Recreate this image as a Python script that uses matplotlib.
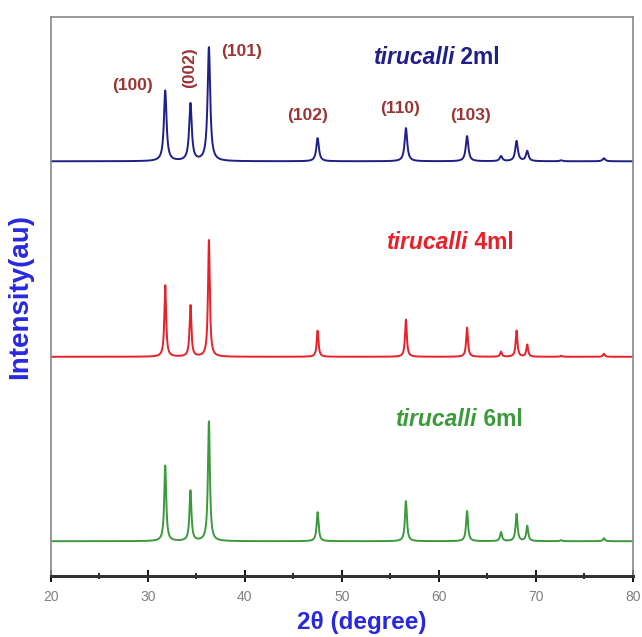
import numpy as np
import matplotlib.pyplot as plt

plt.rcParams['font.family'] = ['Liberation Sans', 'DejaVu Sans']

# peak positions (2theta, degree)
peak_pos = [31.8, 34.4, 36.3, 47.5, 56.6, 62.9, 66.4, 68.0, 69.1, 72.6, 77.0]

# peak heights above baseline for each sample (au)
h_2ml = [70, 57, 113, 23, 33, 25, 5, 20, 10, 1, 3]
h_4ml = [71, 51, 116, 26, 37, 29, 5, 26, 12, 1, 3]
h_6ml = [75, 50, 119, 29, 40, 30, 9, 27, 15, 1, 3]

offsets = [412, 218, 35]
names = ["2ml", "4ml", "6ml"]
colors = ["#1f1f8a", "#e8202a", "#3c9a3c"]
label_x = [61.6, 63.0, 63.9]
label_y = [515, 331, 156]

hkl = ["(100)", "(002)", "(101)", "(102)", "(110)", "(103)"]
hkl_x = [28.4, 34.3, 39.7, 46.5, 56.0, 63.3]
hkl_y = [487, 505, 521, 457, 464, 457]
hkl_rot = [0, 90, 0, 0, 0, 0]

x = np.linspace(20, 80, 3000)


def pattern(heights, w):
    y = np.zeros_like(x)
    for p, h in zip(peak_pos, heights):
        y += h / (1 + ((x - p) / w) ** 2)
    return y


fig = plt.figure(figsize=(6.42, 6.37), dpi=100)
ax = fig.add_axes([0.079, 0.095, 0.907, 0.878])

widths = [0.16, 0.11, 0.12]
for heights, off, c, w in zip([h_2ml, h_4ml, h_6ml], offsets, colors, widths):
    ax.plot(x, pattern(heights, w) + off, color=c, lw=1.4)

for name, c, lx, ly in zip(names, colors, label_x, label_y):
    ax.text(lx, ly, "tirucalli", color=c, fontsize=16.5, fontweight='bold',
            fontstyle='italic', ha='right', va='center')
    ax.text(lx, ly, " " + name, color=c, fontsize=16.5, fontweight='bold',
            ha='left', va='center')

for lab, hx, hy, r in zip(hkl, hkl_x, hkl_y, hkl_rot):
    ax.text(hx, hy, lab, color="#9a3535", fontsize=12.5, fontweight='bold',
            ha='center', va='center', rotation=r)

ax.set_xlim(20, 80)
ax.set_ylim(0, 555)
ax.set_xticks([20, 30, 40, 50, 60, 70, 80])
ax.set_xticks([25, 35, 45, 55, 65, 75], minor=True)
ax.set_yticks([])
ax.tick_params(axis='x', direction='inout', length=8, width=1.3, labelsize=10,
               labelcolor='#808080', pad=6)
ax.tick_params(axis='x', which='minor', direction='inout', length=5, width=1.2)
for s in ['top', 'right', 'left']:
    ax.spines[s].set_color('#888888')
    ax.spines[s].set_linewidth(1.2)
ax.spines['bottom'].set_linewidth(2.2)
ax.spines['bottom'].set_color('#333333')

ax.set_xlabel("2θ (degree)", color="#2828e0", fontsize=17.5, fontweight='bold')
ax.xaxis.set_label_coords(0.534, -0.061)
ax.set_ylabel("Intensity(au)", color="#2828e0", fontsize=20, fontweight='bold')
ax.yaxis.set_label_coords(-0.03, 0.5)

fig.savefig("out.png", dpi=100)
